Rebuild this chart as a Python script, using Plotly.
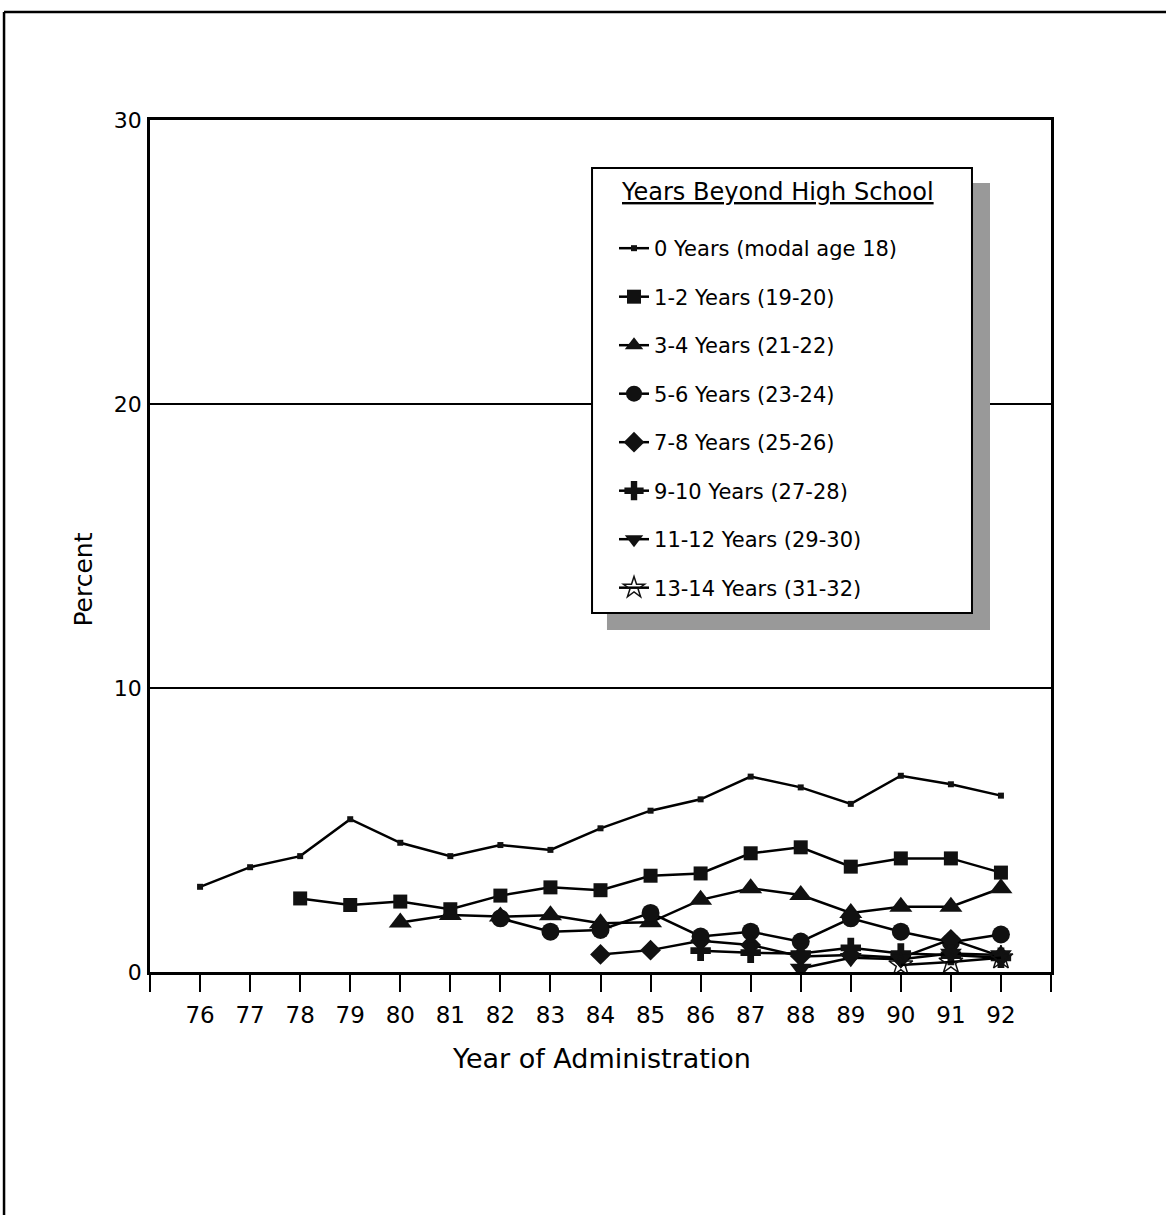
import plotly.graph_objects as go

years = list(range(76, 93))

s0 = [3.0, 3.69, 4.08, 5.38, 4.55, 4.08, 4.47, 4.30, 5.06, 5.68, 6.08, 6.88, 6.50, 5.92, 6.91, 6.61, 6.21]
s1 = [None, None, 2.59, 2.36, 2.48, 2.21, 2.69, 2.98, 2.88, 3.39, 3.47, 4.18, 4.39, 3.71, 4.00, 4.00, 3.50]
s2 = [None] * 4 + [1.74, 2.01, 1.95, 2.0, 1.72, 1.75, 2.54, 2.95, 2.71, 2.08, 2.30, 2.30, 2.95]
s3 = [None] * 6 + [1.89, 1.42, 1.48, 2.08, 1.25, 1.42, 1.07, 1.89, 1.42, 1.05, 1.32]
s4 = [None] * 8 + [0.62, 0.77, 1.1, 0.95, 0.55, 0.6, 0.5, 1.15, 0.55]
s5 = [None] * 10 + [0.75, 0.68, 0.65, 0.85, 0.65, 0.6, 0.5]
s6 = [None] * 12 + [0.12, 0.5, 0.45, 0.65, 0.6]
s7 = [None] * 14 + [0.25, 0.35, 0.5]

names = [
    "0 Years (modal age 18)",
    "1-2 Years (19-20)",
    "3-4 Years (21-22)",
    "5-6 Years (23-24)",
    "7-8 Years (25-26)",
    "9-10 Years (27-28)",
    "11-12 Years (29-30)",
    "13-14 Years (31-32)",
]
series = [s0, s1, s2, s3, s4, s5, s6, s7]
symbols = ["square", "square", "triangle-up", "circle", "diamond", "cross", "triangle-down", "star-open"]
sizes = [6, 14, 20, 18, 16, 17, 19, 18]

legend_title = "Years Beyond High School"
x_title = "Year of Administration"
y_title = "Percent"

x_tickvals = list(range(75, 94))
x_ticktext = [""] + [str(y) for y in years] + [""]

fig = go.Figure()
for i, (nm, ys, sym, sz) in enumerate(zip(names, series, symbols, sizes)):
    fig.add_trace(go.Scatter(
        x=years, y=ys, name=nm, mode="lines+markers",
        line=dict(color="black", width=2.5),
        marker=dict(symbol=sym, size=sz, color="#111",
                    line=dict(color="black", width=1.5 if sym == "star-open" else 0)),
        legendgroup=f"g{i}", connectgaps=False,
    ))

FONT = "DejaVu Sans, Liberation Sans, Arial, sans-serif"

shapes = [
    # outer frame
    dict(type="line", xref="paper", yref="paper", x0=-0.162, x1=1.14, y0=1.1268, y1=1.1268,
         line=dict(color="black", width=2.5)),
    dict(type="line", xref="paper", yref="paper", x0=-0.162, x1=-0.162, y0=1.1268, y1=-0.3,
         line=dict(color="black", width=2.5)),
    # legend shadow
    dict(type="rect", xref="paper", yref="paper", x0=0.5072, x1=0.9323, y0=0.4014, y1=0.9261,
         fillcolor="#999999", line=dict(width=0), layer="above"),
    # legend box
    dict(type="rect", xref="paper", yref="paper", x0=0.4906, x1=0.9123, y0=0.4214, y1=0.9437,
         fillcolor="white", line=dict(color="black", width=2), layer="above"),
]

annotations = [
    dict(text=f"<u>{legend_title}</u>", xref="paper", yref="paper",
         x=0.5205, y=0.9155, xanchor="left", yanchor="middle", showarrow=False,
         font=dict(size=24, family=FONT, color="black")),
    dict(text=x_title, xref="paper", yref="paper", x=0.5016, y=-0.101,
         xanchor="center", yanchor="middle", showarrow=False,
         font=dict(size=27, family=FONT, color="black")),
    dict(text=y_title, xref="paper", yref="paper", x=-0.0738, y=0.460,
         xanchor="center", yanchor="middle", showarrow=False, textangle=-90,
         font=dict(size=25, family=FONT, color="black")),
]

fig.update_layout(
    width=1166, height=1215,
    margin=dict(l=150, r=115, t=120, b=243),
    paper_bgcolor="white", plot_bgcolor="white",
    font=dict(family=FONT, color="black", size=20),
    showlegend=True,
    legend=dict(
        x=0.5150, y=0.8732, xanchor="left", yanchor="top",
        bgcolor="rgba(0,0,0,0)", borderwidth=0,
        font=dict(size=21, family=FONT), tracegroupgap=18.2, traceorder="grouped",
        itemwidth=30,
    ),
    shapes=shapes,
    annotations=annotations,
    xaxis=dict(
        range=[75, 93], tickvals=x_tickvals, ticktext=x_ticktext,
        ticks="outside", ticklen=17, tickwidth=2, tickcolor="black",
        showline=True, linecolor="black", linewidth=2.5, mirror=True,
        showgrid=False, zeroline=False,
        tickfont=dict(size=23), ticklabelstandoff=4,
    ),
    yaxis=dict(
        range=[0, 30], tickvals=[0, 10, 20, 30],
        ticks="", showline=True, linecolor="black", linewidth=2.5, mirror=True,
        showgrid=True, gridcolor="black", gridwidth=2, zeroline=False,
        tickfont=dict(size=22), ticklabelstandoff=1,
    ),
)

fig.write_html("out.html", config={"displayModeBar": False},
               post_script="document.body.style.margin='0';")
